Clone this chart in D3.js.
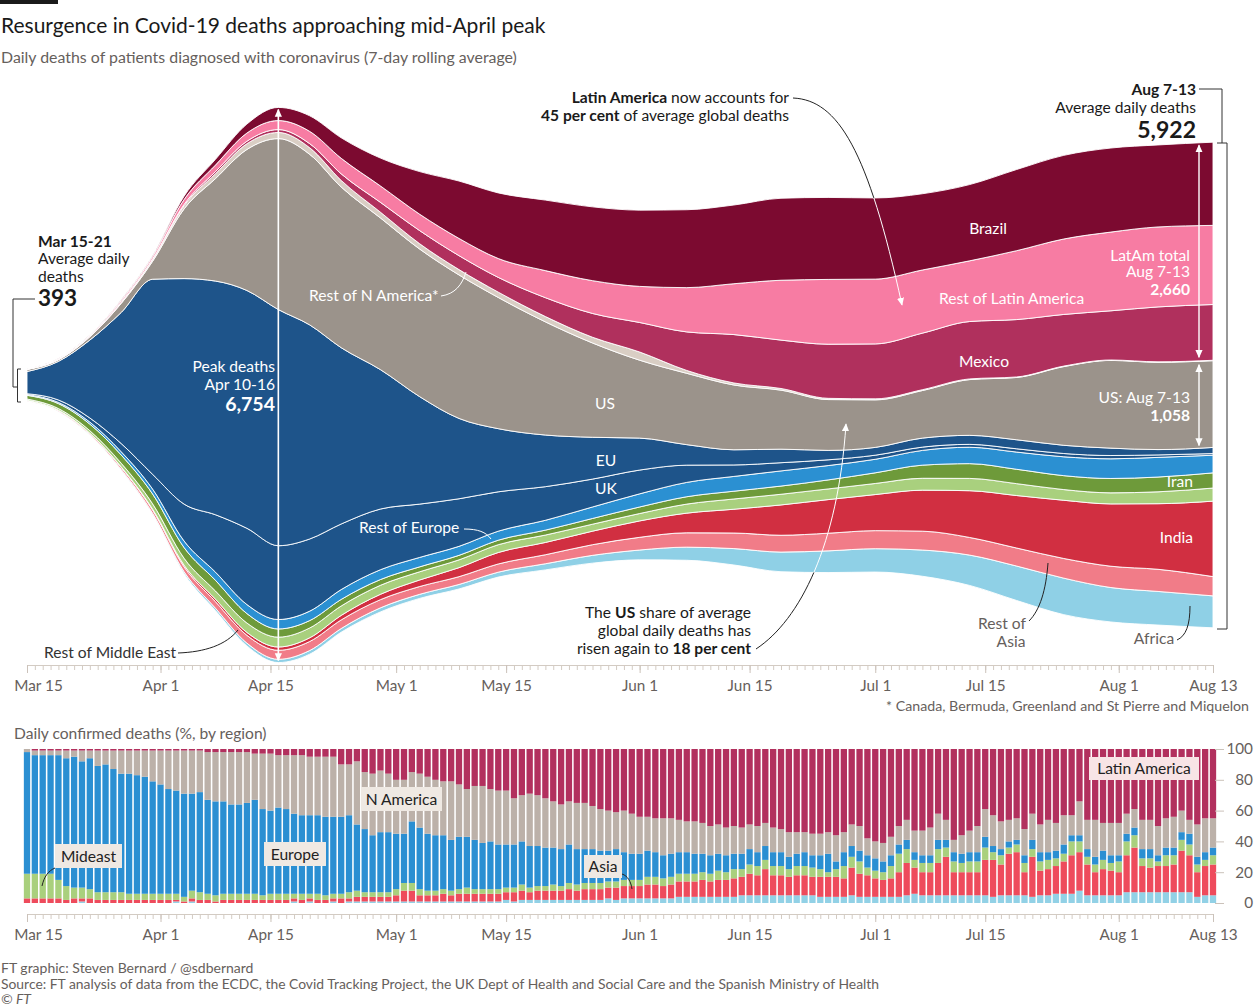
<!DOCTYPE html>
<html><head><meta charset="utf-8">
<script src="https://cdn.jsdelivr.net/npm/d3@7"></script>
<style>
body{margin:0;background:#fff;}
svg{display:block;font-family:Lato,"Noto Sans",sans-serif;}
</style></head><body>
<svg id="chart" width="1260" height="1006"></svg>
<script>
// ---------------- DATA ----------------
// Stream chart: 7-day rolling average of daily deaths, sampled dates
const streamDates = ["2020-03-15","2020-03-19","2020-03-23","2020-03-27","2020-03-31","2020-04-04","2020-04-08","2020-04-12","2020-04-16","2020-04-20","2020-04-24","2020-04-29","2020-05-04","2020-05-09","2020-05-14","2020-05-20","2020-05-26","2020-06-01","2020-06-07","2020-06-13","2020-06-19","2020-06-25","2020-07-01","2020-07-07","2020-07-13","2020-07-19","2020-07-25","2020-07-31","2020-08-06","2020-08-13"];
const africa     = [2,3,5,10,15,25,30,35,40,45,45,50,50,55,60,75,95,120,160,200,240,265,285,320,370,420,445,420,410,390];
const restAsia   = [8,10,15,25,40,60,80,95,110,110,105,100,95,95,100,110,130,155,175,190,205,215,220,230,215,220,240,260,270,235];
const india      = [1,2,3,5,10,20,30,35,40,45,55,65,80,110,140,150,165,200,240,290,370,410,440,500,570,640,710,760,800,920];
const restME     = [15,20,30,45,65,85,100,115,120,120,115,110,100,95,95,90,85,90,110,125,130,130,135,145,150,145,130,135,145,160];
const iran       = [45,60,80,100,120,130,130,115,100,90,80,70,60,55,55,60,70,80,90,95,100,110,130,160,180,175,170,175,180,185];
const restEurope = [10,15,25,40,60,80,100,110,115,115,120,120,115,110,110,120,140,160,175,180,185,175,165,180,200,210,230,240,240,215];
const uk         = [10,30,50,100,180,450,700,930,900,880,800,740,650,580,480,410,340,290,210,140,100,70,50,40,35,40,40,40,30,20];
const eu         = [270,470,950,1600,2380,2750,2850,2900,2880,2610,2150,1700,1310,980,770,630,510,390,250,185,165,115,95,110,110,110,100,90,65,75];
const us         = [25,20,40,110,220,850,1250,1720,2085,2080,1960,1850,1800,1750,1600,1380,1150,950,870,790,720,620,580,580,680,760,960,1070,1065,1058];
const restNAm    = [3,4,6,10,20,40,60,70,75,80,80,70,65,65,65,65,70,100,35,25,20,15,12,10,8,6,6,5,5,5];
const mexico     = [0,1,2,4,8,15,25,30,35,50,80,120,160,170,180,230,290,360,470,590,590,660,670,690,700,700,630,600,670,680];
const restLatAm  = [4,6,10,20,30,60,80,100,110,150,190,200,200,210,230,330,400,440,540,620,730,790,790,770,740,840,920,960,975,965];
const brazil     = [1,3,4,10,12,40,70,110,160,190,250,340,520,700,800,860,900,930,950,960,1000,1000,990,930,930,990,1020,1025,1000,1015];

// Bar chart: daily confirmed deaths, % by region (Mar 15 .. Aug 13, one value per day)
const barStart = "2020-03-15";
const barAfrica = [0,0,0,0,0,0,0,1,0,0, 0,0,0,0,0,0,0,0,0,1, 0,1,0,0,0,0,0,0,0,0, 0,0,0,0,1,0,1,0,0,1, 0,1,1,1,1,1,1,1,1,1, 1,1,1,1,1,1,1,1,1,1, 1,2,1,2,2,2,2,2,2,2, 2,2,2,2,3,2,3,3,3,3, 3,3,3,4,4,4,4,4,4,4, 4,5,5,5,5,5,5,5,5,5,5, 4,4,4,4,5,4,4,4,4,4, 4,5,6,5,5,5,5,5,5,5, 5,5,4,5,5,5,5,4,5,5, 6,6,6,8,5,5,5,5,5,7, 7,7,7,7,7,7,7,7,4,5, 5];
const barAsia = [3,3,3,3,3,2,3,2,3,2, 2,2,2,2,2,2,2,2,2,1, 1,2,2,2,1,2,2,2,2,2, 2,2,2,2,2,2,2,2,2,2, 3,2,3,3,3,3,3,4,7,7, 4,4,4,5,4,5,5,5,5,5, 5,5,6,6,5,6,6,6,6,7, 6,7,7,7,7,8,8,8,8,9, 9,8,9,10,10,10,11,10,11,11, 12,12,14,13,17,13,13,12,13,13,12, 13,13,13,12,18,15,14,12,11,12, 16,21,17,15,15,21,25,15,15,15, 15,23,24,20,27,28,15,26,16,17, 18,21,25,25,20,15,17,16,15,24, 29,17,16,17,17,18,27,24,16,19, 20];
const barMideast = [16,16,16,16,12,9,7,7,6,5, 5,5,5,4,4,4,4,4,4,4, 3,5,5,4,4,4,4,4,4,4, 3,4,4,4,3,4,3,4,3,3, 3,4,4,3,3,3,3,4,5,5, 4,3,3,3,3,3,4,3,3,3, 3,3,3,4,3,3,3,4,3,4, 4,4,4,4,4,4,4,4,4,5, 5,5,5,5,5,5,5,5,6,5, 6,5,6,6,6,6,6,5,6,6,6, 5,3,5,8,7,8,5,5,5,8, 12,9,5,6,6,9,6,7,6,7, 7,8,5,6,4,5,6,5,6,6, 5,5,9,7,5,5,6,5,7,9, 8,5,6,3,7,6,7,7,5,4, 6];
const barEurope = [79,77,77,77,81,83,85,82,85,82, 83,80,77,78,77,76,73,71,68,67, 67,63,65,61,61,60,58,58,59,61, 56,54,56,55,52,51,51,51,51,50, 50,50,43,41,37,39,39,36,32,40, 40,37,36,35,33,34,33,32,30,31, 29,28,28,28,27,26,25,24,24,25, 23,22,22,21,20,21,18,17,17,17, 16,15,15,14,14,13,12,12,11,11, 10,10,10,9,9,9,9,8,8,9,8, 9,12,5,9,7,7,8,8,7,7, 6,6,5,5,5,6,5,6,6,6, 6,7,4,4,4,3,5,6,6,5, 5,6,4,4,5,5,6,5,4,5, 5,6,6,4,5,5,5,7,5,5, 5];
const barNAmerica = [2,3,3,3,3,5,4,7,5,10, 9,12,15,15,16,17,20,22,25,26, 28,28,27,31,32,32,34,34,33,30, 36,37,34,35,38,39,38,38,39,39, 34,33,41,37,40,40,38,35,35,32, 35,37,36,35,38,34,31,35,37,34, 35,35,30,30,34,33,32,30,29,28, 30,30,28,27,26,24,27,26,24,22, 22,24,23,21,20,21,20,19,19,18, 18,17,16,17,15,16,15,16,14,13,14, 14,14,17,13,14,16,11,11,12,12, 12,13,14,16,18,17,13,8,12,14, 17,18,20,18,14,14,17,17,18,21, 18,19,13,22,19,24,18,21,21,13, 12,19,19,19,19,20,14,9,21,22, 19];
const barLatAm = [0,1,1,1,1,1,1,1,1,1, 1,1,1,1,1,1,1,1,1,1, 1,1,1,2,2,2,2,2,2,3, 3,3,4,4,4,4,5,5,5,5, 10,10,8,15,16,14,16,20,20,15, 16,18,20,21,21,23,26,24,24,26, 27,27,32,30,29,30,32,34,36,34, 35,35,37,39,40,41,40,42,44,44, 45,45,45,46,47,47,48,50,49,51, 50,51,49,50,48,51,52,54,54,54,55, 55,54,56,54,49,50,58,60,61,57, 50,46,53,53,51,42,46,59,56,53, 50,39,43,47,46,45,52,42,49,46, 48,43,43,34,46,46,48,48,48,42, 39,46,46,50,45,44,40,46,49,45, 45];

// Axis tick labels
const tickDates  = ["2020-03-15","2020-04-01","2020-04-15","2020-05-01","2020-05-15","2020-06-01","2020-06-15","2020-07-01","2020-07-15","2020-08-01","2020-08-13"];
const tickLabels = ["Mar 15","Apr 1","Apr 15","May 1","May 15","Jun 1","Jun 15","Jul 1","Jul 15","Aug 1","Aug 13"];
const pctTicks = [0,20,40,60,80,100];

// ---------------- SETUP ----------------
const svg = d3.select("#chart");
const P = d3.utcParse("%Y-%m-%d");
const GREY = "#66605c", INK = "#1a1a1a";
const FS = 15.6;

const x = d3.scaleUtc().domain([P("2020-03-15"), P("2020-08-13")]).range([27, 1213]);
const y = d3.scaleLinear().domain([-4000, 4000]).range([713, 57]);

const keys = ["africa","restAsia","india","restME","iran","restEurope","uk","eu","us","restNAm","mexico","restLatAm","brazil"];
const seriesMap = {africa,restAsia,india,restME,iran,restEurope,uk,eu,us,restNAm,mexico,restLatAm,brazil};
const colors = {africa:"#8fd0e6",restAsia:"#f17c88",india:"#d12f41",restME:"#a9d07e",iran:"#6e9a3a",
  restEurope:"#2b90d2",uk:"#1e548a",eu:"#1e548a",us:"#9b938b",restNAm:"#d9cec4",mexico:"#b0305d",
  restLatAm:"#f77ca3",brazil:"#7c0a30"};

const rows = streamDates.map((d,i)=>{const r={date:P(d)}; keys.forEach(k=>r[k]=seriesMap[k][i]); return r;});
const stacked = d3.stack().keys(keys).order(d3.stackOrderNone).offset(d3.stackOffsetSilhouette)(rows);
const area = d3.area().x(d=>x(d.data.date)).y0(d=>y(d[0])).y1(d=>y(d[1])).curve(d3.curveMonotoneX);

const defs = svg.append("defs");
function marker(id,color){
  defs.append("marker").attr("id",id).attr("viewBox","0 0 10 10").attr("refX",9).attr("refY",5)
    .attr("markerWidth",8).attr("markerHeight",8).attr("markerUnits","userSpaceOnUse")
    .attr("orient","auto-start-reverse").append("path").attr("d","M0,0.5 L10,5 L0,9.5 Z").attr("fill",color);
}
marker("arrW","#fff"); marker("arrK","#222");

// stream outline for clipping/masking leader lines
const outline = stacked[0].map((d,i)=>({date:d.data.date, lo:d[0], hi:stacked[stacked.length-1][i][1]}));
const outlineArea = d3.area().x(d=>x(d.date)).y0(d=>y(d.lo)).y1(d=>y(d.hi)).curve(d3.curveMonotoneX);
defs.append("clipPath").attr("id","inStream").append("path").attr("d",outlineArea(outline));
const mask = defs.append("mask").attr("id","outStream");
mask.append("rect").attr("width",1260).attr("height",1006).attr("fill","#fff");
mask.append("path").attr("d",outlineArea(outline)).attr("fill","#000");

// ---------------- HEADER ----------------
svg.append("rect").attr("x",0).attr("y",0).attr("width",58).attr("height",4).attr("fill",INK);
function label(xp, yp, parts, o={}){
  const t = svg.append("text").attr("x",xp).attr("y",yp).attr("font-size",o.size||FS)
    .attr("fill",o.fill||INK).attr("text-anchor",o.anchor||"start");
  if(o.italic) t.attr("font-style","italic");
  if(typeof parts==="string") parts=[[parts,!!o.bold]];
  parts.forEach(p=>t.append("tspan").text(p[0]).attr("font-weight",p[1]?"bold":null));
  return t;
}
label(1,33,"Resurgence in Covid-19 deaths approaching mid-April peak",{size:21});
label(1,63,"Daily deaths of patients diagnosed with coronavirus (7-day rolling average)",{size:15.9,fill:GREY});

// ---------------- STREAM ----------------
svg.append("g").selectAll("path").data(stacked).join("path")
  .attr("d",area).attr("fill",d=>colors[d.key]).attr("stroke","#fff").attr("stroke-width",0.9);

function timeAxis(yPos){
  const gm = svg.append("g").attr("transform",`translate(0,${yPos})`)
    .call(d3.axisBottom(x).ticks(d3.utcDay.every(1)).tickSize(5).tickSizeOuter(0).tickFormat(""));
  gm.select(".domain").attr("stroke","#d3cbc3");
  gm.selectAll(".tick line").attr("stroke","#d3cbc3");
  const gM = svg.append("g").attr("transform",`translate(0,${yPos})`)
    .call(d3.axisBottom(x).tickValues(tickDates.map(P)).tickFormat((d,i)=>tickLabels[i]).tickSize(8).tickSizeOuter(0).tickPadding(8));
  gM.select(".domain").remove();
  gM.attr("font-family",null).attr("font-size",null);
  gM.selectAll(".tick line").attr("stroke","#cbc2ba");
  gM.selectAll(".tick text").attr("font-size",15.3).attr("fill",GREY).attr("y",26).attr("dy",0)
    .attr("dx",(d,i)=>i===0?11:0);
}
timeAxis(665);

// peak arrow
const peakIdx = d3.maxIndex(outline,d=>d.hi-d.lo);
const px = x(outline[peakIdx].date);
svg.append("line").attr("x1",px).attr("x2",px).attr("y1",y(outline[peakIdx].hi)+2).attr("y2",y(outline[peakIdx].lo)-2)
  .attr("stroke","#fff").attr("stroke-width",1.6).attr("marker-start","url(#arrW)").attr("marker-end","url(#arrW)");

// right side arrows
const L = outline.length-1;
const ax = 1199;
const last = k=>stacked[keys.indexOf(k)][L];
svg.append("line").attr("x1",ax).attr("x2",ax).attr("y1",y(last("brazil")[1])+3).attr("y2",y(last("mexico")[0])-3)
  .attr("stroke","#fff").attr("stroke-width",1.4).attr("marker-start","url(#arrW)").attr("marker-end","url(#arrW)");
svg.append("line").attr("x1",ax).attr("x2",ax).attr("y1",y(last("us")[1])+4).attr("y2",y(last("us")[0])-2)
  .attr("stroke","#fff").attr("stroke-width",1.4).attr("marker-start","url(#arrW)").attr("marker-end","url(#arrW)");

// annotations inside stream (white)
const W="#fff";
label(275,372,"Peak deaths",{fill:W,anchor:"end"});
label(275,390,"Apr 10-16",{fill:W,anchor:"end"});
label(275,411,"6,754",{fill:W,anchor:"end",bold:true,size:19.5});
label(309,301,"Rest of N America*",{fill:W});
label(605,409,"US",{fill:W,anchor:"middle"});
label(606,466,"EU",{fill:W,anchor:"middle"});
label(606,494,"UK",{fill:W,anchor:"middle"});
label(359,533,"Rest of Europe",{fill:W});
label(988,234,"Brazil",{fill:W,anchor:"middle"});
label(939,304,"Rest of Latin America",{fill:W});
label(984,367,"Mexico",{fill:W,anchor:"middle"});
label(1190,261,"LatAm total",{fill:W,anchor:"end"});
label(1190,277,"Aug 7-13",{fill:W,anchor:"end"});
label(1190,295,"2,660",{fill:W,anchor:"end",bold:true});
label(1190,403,"US: Aug 7-13",{fill:W,anchor:"end"});
label(1190,421,"1,058",{fill:W,anchor:"end",bold:true});
label(1193,487,"Iran",{fill:W,anchor:"end"});
label(1193,543,"India",{fill:W,anchor:"end"});

function leader(d,color,w){return svg.append("path").attr("d",d).attr("fill","none").attr("stroke",color).attr("stroke-width",w||1);}
leader("M441,296 C455,294 462,285 466,272",W);
leader("M464,529 C478,529 486,532 491,539",W);
leader("M178,653 C205,652 226,645 238,630","#222");
leader("M1029,621 C1040,610 1046,590 1048,563","#222");
leader("M1177,640 C1186,636 1190,625 1190,606","#222");

// outside annotations
label(38,247,"Mar 15-21",{bold:true});
label(38,264,"Average daily");
label(38,282,"deaths");
label(38,306,"393",{bold:true,size:22.5});
leader("M35,299 H13 V387 H18","#333");
leader("M21,369 H17.5 V402 H21","#333");

label(44,658,"Rest of Middle East",{fill:"#333"});
label(1002,629,"Rest of",{fill:GREY,anchor:"middle"});
label(1011,647,"Asia",{fill:GREY,anchor:"middle"});
label(1154,644,"Africa",{fill:GREY,anchor:"middle"});

label(1196,95,"Aug 7-13",{bold:true,anchor:"end"});
label(1196,113,"Average daily deaths",{anchor:"end"});
label(1196,138,"5,922",{bold:true,anchor:"end",size:23});
leader("M1199,89 H1222 V143","#333");
leader("M1217,143 H1227 V629 H1217","#333");

label(789,103,[["Latin America",true],[" now accounts for",false]],{anchor:"end"});
label(789,121,[["45 per cent",true],[" of average global deaths",false]],{anchor:"end"});
const laPath="M793,98 C838,100 868,150 902,305";
leader(laPath,"#222").attr("mask","url(#outStream)");
leader(laPath,W).attr("clip-path","url(#inStream)").attr("marker-end","url(#arrW)");

label(751,618,[["The ",false],["US",true],[" share of average",false]],{anchor:"end"});
label(751,636,"global daily deaths has",{anchor:"end"});
label(751,654,[["risen again to ",false],["18 per cent",true]],{anchor:"end"});
const usPath="M756,649 C800,620 838,545 846,424";
leader(usPath,"#222").attr("mask","url(#outStream)");
leader(usPath,W).attr("marker-end","url(#arrW)").attr("clip-path","url(#inStream)");

label(1249,711,"* Canada, Bermuda, Greenland and St Pierre and Miquelon",{anchor:"end",fill:GREY,size:14.2});

// ---------------- BAR CHART ----------------
label(14,739,"Daily confirmed deaths (%, by region)",{fill:GREY});
const yB = d3.scaleLinear().domain([0,100]).range([903,749]);
const barKeys = ["africa","asia","mideast","europe","namerica","latam"];
const barMap = {africa:barAfrica,asia:barAsia,mideast:barMideast,europe:barEurope,namerica:barNAmerica,latam:barLatAm};
const barColors = {africa:"#92d1e6",asia:"#ee4b5c",mideast:"#a9d07d",europe:"#2b8fd2",namerica:"#bcb1a9",latam:"#b2305e"};
const start = P(barStart);
const barRows = barAfrica.map((_,i)=>{const r={date:d3.utcDay.offset(start,i)}; barKeys.forEach(k=>r[k]=barMap[k][i]); return r;});
const barStack = d3.stack().keys(barKeys)(barRows);
const bw = 6.3;
svg.append("g").selectAll("g").data(barStack).join("g").attr("fill",d=>barColors[d.key])
  .selectAll("rect").data(d=>d).join("rect")
  .attr("x",d=>x(d.data.date)-bw/2).attr("width",bw)
  .attr("y",d=>yB(d[1])).attr("height",d=>Math.max(0,yB(d[0])-yB(d[1])));

const gr = svg.append("g").attr("transform","translate(1215,0)")
  .call(d3.axisRight(yB).tickValues(pctTicks).tickSize(9).tickSizeOuter(0));
gr.select(".domain").remove();
gr.attr("font-family",null).attr("font-size",null);
gr.selectAll(".tick line").attr("stroke","#cbc2ba");
gr.selectAll(".tick text").attr("font-size",15.3).attr("fill",GREY).attr("text-anchor","end").attr("x",38);

timeAxis(914);

function boxLabel(x0,y0,w,h,text,fill){
  svg.append("rect").attr("x",x0).attr("y",y0).attr("width",w).attr("height",h).attr("fill",fill);
  label(x0+w/2,y0+h-6,text,{anchor:"middle",fill:"#222"});
}
boxLabel(55,844,67,24,"Mideast","#efe9e3");
boxLabel(264,842,62,24,"Europe","#efe9e3");
boxLabel(361,787,81,24,"N America","#efe9e3");
boxLabel(584,855,38,23,"Asia","#efe9e3");
boxLabel(1089,757,110,23,"Latin America","#f8e4e6");
leader("M42,886 C44,877 48,871 55,868","#222");
leader("M622,874 C628,876 631,882 632,889","#222");

// ---------------- FOOTER ----------------
label(1,973,"FT graphic: Steven Bernard / @sdbernard",{fill:GREY,size:14});
label(1,989,"Source: FT analysis of data from the ECDC, the Covid Tracking Project, the UK Dept of Health and Social Care and the Spanish Ministry of Health",{fill:GREY,size:13.9});
label(1,1004,"© FT",{fill:GREY,size:14,italic:true});
</script></body></html>
